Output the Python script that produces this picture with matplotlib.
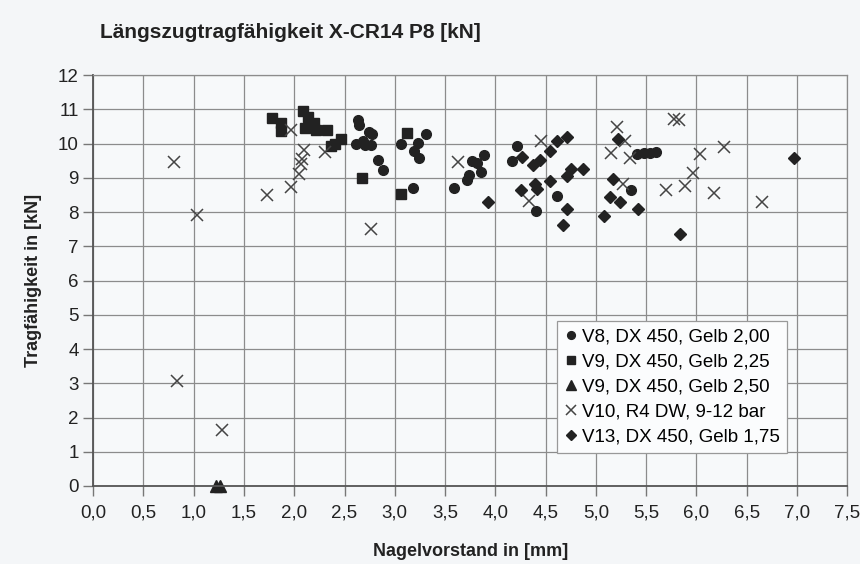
import matplotlib.pyplot as plt

plt.rcParams['font.family'] = ['Liberation Sans', 'DejaVu Sans']

# V8, DX 450, Gelb 2,00 (circles)
v8_x = [2.63, 2.64, 2.74, 2.77, 2.61, 2.68, 2.70, 2.76, 2.83, 2.88, 3.06, 3.23, 3.31, 3.19, 3.24,
        3.18, 3.59, 3.72, 3.74, 3.77, 3.82, 3.86, 3.89, 4.22, 4.17, 4.40, 4.61, 5.35, 5.41, 5.48,
        5.54, 5.60]
v8_y = [10.70, 10.53, 10.35, 10.29, 9.98, 10.08, 9.97, 9.97, 9.53, 9.23, 9.98, 10.01, 10.29, 9.77, 9.57,
        8.70, 8.71, 8.92, 9.09, 9.48, 9.42, 9.16, 9.65, 9.92, 9.48, 8.02, 8.47, 8.65, 9.70, 9.72,
        9.72, 9.74]

# V9, DX 450, Gelb 2,25 (squares)
v9a_x = [1.78, 1.87, 1.87, 2.09, 2.14, 2.11, 2.20, 2.22, 2.33, 2.46, 2.41, 2.37, 2.67, 3.12, 3.06]
v9a_y = [10.75, 10.60, 10.37, 10.94, 10.77, 10.46, 10.60, 10.38, 10.38, 10.13, 9.98, 9.94, 8.99, 10.32, 8.52]

# V9, DX 450, Gelb 2,50 (triangles)
v9b_x = [1.22, 1.26]
v9b_y = [0.0, 0.0]

# V10, R4 DW, 9-12 bar (crosses)
v10_x = [0.80, 1.03, 0.83, 1.28, 1.73, 1.97, 2.05, 2.07, 2.08, 2.10, 1.97, 2.31, 2.76, 3.63, 4.45,
         4.33, 5.21, 5.29, 5.15, 5.34, 5.27, 5.78, 5.83, 6.04, 5.97, 5.89, 5.70, 6.18, 6.27, 6.65]
v10_y = [9.46, 7.92, 3.08, 1.63, 8.50, 8.74, 9.10, 9.39, 9.54, 9.80, 10.38, 9.76, 7.50, 9.47, 10.08,
         8.31, 10.48, 10.08, 9.73, 9.58, 8.83, 10.72, 10.68, 9.68, 9.15, 8.76, 8.64, 8.56, 9.91, 8.29]

# V13, DX 450, Gelb 1,75 (diamonds)
v13_x = [3.93, 4.27, 4.54, 4.61, 4.71, 4.37, 4.44, 4.71, 4.75, 4.87, 4.54, 4.26, 4.39, 4.41, 4.71,
         4.67, 5.08, 5.14, 5.17, 5.24, 5.42, 5.22, 5.84, 6.97]
v13_y = [8.28, 9.60, 9.78, 10.07, 10.18, 9.36, 9.52, 9.06, 9.27, 9.26, 8.90, 8.64, 8.83, 8.66, 8.10,
         7.63, 7.88, 8.44, 8.96, 8.28, 8.09, 10.14, 7.36, 9.57]

labels = ["V8, DX 450, Gelb 2,00", "V9, DX 450, Gelb 2,25", "V9, DX 450, Gelb 2,50",
          "V10, R4 DW, 9-12 bar", "V13, DX 450, Gelb 1,75"]

x_ticks = [0.0, 0.5, 1.0, 1.5, 2.0, 2.5, 3.0, 3.5, 4.0, 4.5, 5.0, 5.5, 6.0, 6.5, 7.0, 7.5]
y_ticks = list(range(0, 13))

dark = '#222222'
paper = '#f4f6f8'

fig = plt.figure(figsize=(8.6, 5.64), dpi=100, facecolor=paper)
ax = fig.add_axes([0.1084, 0.1383, 0.8767, 0.7287], facecolor='#f7f9fa')

ax.plot(v8_x, v8_y, 'o', color=dark, ms=7, ls='none', label=labels[0], clip_on=False)
ax.plot(v9a_x, v9a_y, 's', color=dark, ms=6.8, ls='none', label=labels[1], clip_on=False)
ax.plot(v9b_x, v9b_y, '^', color=dark, ms=8.5, ls='none', label=labels[2], clip_on=False)
ax.plot(v10_x, v10_y, 'x', color='#444444', ms=8.5, mew=1.1, ls='none', label=labels[3], clip_on=False)
ax.plot(v13_x, v13_y, 'D', color=dark, ms=5.8, ls='none', label=labels[4], clip_on=False)

ax.set_xlim(0, 7.5)
ax.set_ylim(0, 12)
ax.set_xticks(x_ticks)
ax.set_xticklabels([("%.1f" % t).replace('.', ',') for t in x_ticks])
ax.set_yticks(y_ticks)
ax.tick_params(labelsize=13.5, color='#777777', length=7, width=1, labelcolor='#222222')
ax.tick_params(axis='x', pad=6)
ax.grid(True, color='#8c8c8c', lw=0.9)
ax.set_axisbelow(True)

for side in ['left', 'bottom']:
    ax.spines[side].set_color('#555555')
    ax.spines[side].set_linewidth(1.3)
for side in ['top', 'right']:
    ax.spines[side].set_color('#8c8c8c')
    ax.spines[side].set_linewidth(0.9)

ax.set_xlabel("Nagelvorstand in [mm]", fontsize=13, fontweight='bold', color='#222222', labelpad=16)
ax.set_ylabel("Tragfähigkeit in [kN]", fontsize=13, fontweight='bold', color='#222222', labelpad=11)

fig.text(100 / 860, 1 - 33 / 564, "Längszugtragfähigkeit X-CR14 P8 [kN]", fontsize=15,
         fontweight='bold', color='#222222', va='center', ha='left')

leg = ax.legend(loc='lower left', bbox_to_anchor=(0.6146, 0.0796), borderaxespad=0,
                fontsize=13.5, handlelength=0.7, handletextpad=0.25, labelspacing=0.42,
                borderpad=0.4, markerscale=0.8, fancybox=False, framealpha=1,
                edgecolor='#999999', facecolor='#fbfcfd')
leg.get_frame().set_linewidth(0.9)

plt.savefig('out.png', dpi=100, facecolor=paper)
